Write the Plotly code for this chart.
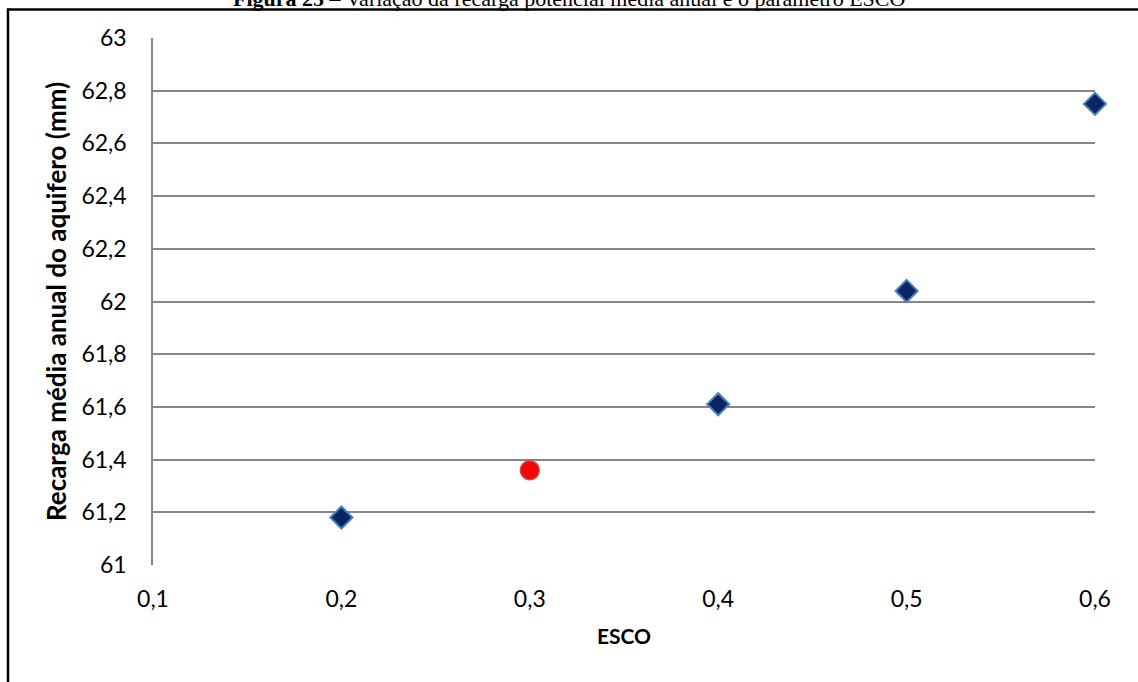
import plotly.graph_objects as go

esco = [0.2, 0.3, 0.4, 0.5, 0.6]
recarga = [61.18, 61.36, 61.61, 62.04, 62.75]
highlight_x = [0.3]
highlight_y = [61.36]
other_x = [0.2, 0.4, 0.5, 0.6]
other_y = [61.18, 61.61, 62.04, 62.75]

x_ticks = [0.1, 0.2, 0.3, 0.4, 0.5, 0.6]
x_labels = ["0,1", "0,2", "0,3", "0,4", "0,5", "0,6"]
y_ticks = [61, 61.2, 61.4, 61.6, 61.8, 62, 62.2, 62.4, 62.6, 62.8, 63]
y_labels = ["61", "61,2", "61,4", "61,6", "61,8", "62", "62,2", "62,4", "62,6", "62,8", "63"]

W, H = 1138, 682
L, R, T, B = 153, 43, 38, 117
pw, ph = W - L - R, H - T - B

def px_x(p):
    return (p - L) / pw

def px_y(p):
    return (H - B - p) / ph

fig = go.Figure()
fig.add_trace(go.Scatter(
    x=other_x, y=other_y, mode="markers", cliponaxis=False,
    marker=dict(symbol="diamond", size=17, color="#0b2463",
                line=dict(color="#4a7ebb", width=2)),
    showlegend=False, hoverinfo="x+y"))
fig.add_trace(go.Scatter(
    x=highlight_x, y=highlight_y, mode="markers", cliponaxis=False,
    marker=dict(symbol="circle", size=19, color="#ff0000",
                line=dict(color="#c0504d", width=1.5)),
    showlegend=False, hoverinfo="x+y"))

font_family = "Lato, Open Sans, sans-serif"
fig.update_layout(
    width=W, height=H,
    margin=dict(l=L, r=R, t=T, b=B),
    paper_bgcolor="white", plot_bgcolor="white",
    font=dict(family=font_family, size=23, color="#000000"),
    xaxis=dict(range=[0.1, 0.6], tickvals=x_ticks, ticktext=x_labels,
               showgrid=False, zeroline=False, showline=False,
               ticks="", ticklabelstandoff=18,
               title=dict(text="<b>ESCO</b>", font=dict(size=21), standoff=18)),
    yaxis=dict(range=[61, 63], tickvals=y_ticks, ticktext=y_labels,
               showgrid=True, gridcolor="#868686", gridwidth=1.5,
               zeroline=False, showline=True, linecolor="#868686", linewidth=1.5,
               ticks="", ticklabelstandoff=20,
               title=dict(text="<b>Recarga média anual do aquifero (mm)</b>",
                          font=dict(size=26), standoff=7)),
    shapes=[
        dict(type="line", xref="paper", yref="paper", layer="above",
             x0=px_x(7), x1=px_x(W), y0=px_y(9.5), y1=px_y(9.5),
             line=dict(color="black", width=2.5)),
        dict(type="line", xref="paper", yref="paper", layer="above",
             x0=px_x(8), x1=px_x(8), y0=px_y(8.5), y1=px_y(H),
             line=dict(color="black", width=2.5)),
    ],
    annotations=[
        dict(xref="paper", yref="paper", x=px_x(569), y=px_y(13),
             xanchor="center", yanchor="bottom", showarrow=False,
             text="<b>Figura 25</b> – Variação da recarga potencial média anual e o parâmetro ESCO",
             font=dict(family="Liberation Serif, Times New Roman, serif", size=22, color="black")),
    ],
)

fig.write_html("out.html", config={"displayModeBar": False},
               post_script="document.body.style.margin='0';document.body.style.overflow='hidden';document.documentElement.style.overflow='hidden';")
